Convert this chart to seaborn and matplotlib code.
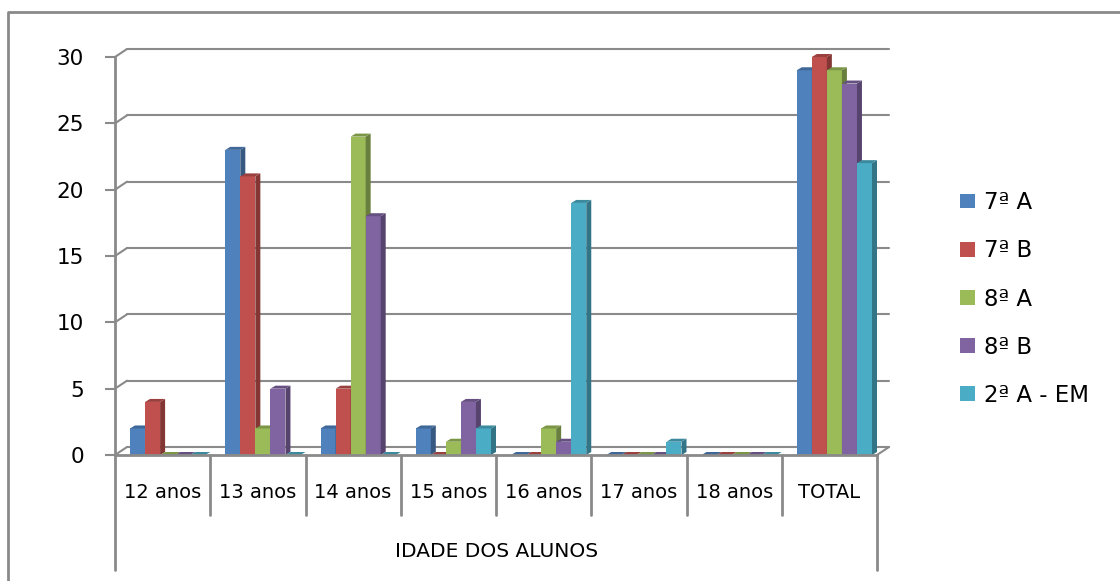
import numpy as np
import pandas as pd
import matplotlib
matplotlib.use("Agg")
import matplotlib.pyplot as plt
import matplotlib.transforms as mtrans
import matplotlib.colors as mcolors
from matplotlib.patches import Polygon, Patch
from matplotlib.lines import Line2D
import seaborn as sns

# Number of students per age group and class
idades = ["12 anos", "13 anos", "14 anos", "15 anos", "16 anos", "17 anos", "18 anos", "TOTAL"]
turmas = ["7ª A", "7ª B", "8ª A", "8ª B", "2ª A - EM"]
t7a = [2, 23, 2, 2, 0, 0, 0, 29]
t7b = [4, 21, 5, 0, 0, 0, 0, 30]
t8a = [0, 2, 24, 1, 2, 0, 0, 29]
t8b = [0, 5, 18, 4, 1, 0, 0, 28]
t2em = [0, 0, 0, 2, 19, 1, 0, 22]
cores = ["#4F81BD", "#C0504D", "#9BBB59", "#8064A2", "#4BACC6"]
yticks = [0, 5, 10, 15, 20, 25, 30]

df = pd.DataFrame({
    "idade": idades * len(turmas),
    "turma": np.repeat(turmas, len(idades)),
    "alunos": t7a + t7b + t8a + t8b + t2em,
})

sns.set_theme(style="white")
plt.rcParams["font.family"] = ["DejaVu Sans"]
plt.rcParams["text.color"] = "black"
plt.rcParams["xtick.color"] = "black"
plt.rcParams["ytick.color"] = "black"

W, H = 1120, 581
GREY = "#8a8a8a"
fig = plt.figure(figsize=(W / 100, H / 100), dpi=100, facecolor="white")
ax_left, ax_right, ax_top, ax_bot = 115, 877, 57, 455
ax = fig.add_axes([ax_left / W, (H - ax_bot) / H,
                   (ax_right - ax_left) / W, (ax_bot - ax_top) / H])

sns.barplot(data=df, x="idade", y="alunos", hue="turma", order=idades,
            hue_order=turmas, palette=cores, width=0.79, gap=0,
            saturation=1, errorbar=None, legend=False, ax=ax, zorder=3)

ax.set_xlim(-0.5, len(idades) - 0.5)
ax.set_ylim(0, 30)
ax.set_yticks(yticks)
ax.set_xlabel("")
ax.set_ylabel("")
for s in ax.spines.values():
    s.set_visible(False)
ax.set_facecolor("white")

ax.tick_params(axis="y", left=True, length=7.5, width=1.5, color=GREY,
               pad=15, labelsize=15.5, labelcolor="black", direction="out")
ax.tick_params(axis="x", bottom=False, length=0, pad=20, labelsize=14,
               labelcolor="black")

ident = mtrans.IdentityTransform()
px = lambda dx, dy: mtrans.ScaledTranslation(dx / 100, dy / 100, fig.dpi_scale_trans)

# back wall gridlines, offset in depth, with the small connecting diagonals
DX, DY = 12, 8
blend = mtrans.blended_transform_factory(ax.transAxes, ax.transData)
for y in yticks:
    ax.plot([0, 1], [y, y], transform=blend + px(DX, DY), color=GREY,
            lw=1.5, clip_on=False, zorder=1)
    x0, y0 = ax.transData.transform((-0.5, y))
    ax.add_artist(Line2D([x0, x0 + DX], [y0, y0 + DY], transform=ident,
                         color=GREY, lw=1.5, zorder=1, clip_on=False))
xr, yr = ax.transData.transform((len(idades) - 0.5, 0))
ax.add_artist(Line2D([xr, xr + DX], [yr, yr + DY], transform=ident,
                     color=GREY, lw=1.5, zorder=1, clip_on=False))

# extruded columns: shift a little into depth, add side and top faces
SHIFT = 5
BD, BE = 5, 3
n_cat = len(idades)
for h, cont in enumerate(ax.containers):
    base = mcolors.to_rgb(cores[h])
    side = tuple(c * 0.68 for c in base)
    top = tuple(c * 0.8 for c in base)
    for j, p in enumerate(cont.patches):
        z = 3 + 0.01 * (j * len(turmas) + h)
        p.set_transform(ax.transData + px(SHIFT, 0))
        p.set_zorder(z)
        p.set_edgecolor("none")
        x0, hgt, w = p.get_x(), p.get_height(), p.get_width()
        X0, Y0 = ax.transData.transform((x0, 0))
        X1, Y1 = ax.transData.transform((x0 + w, hgt))
        X0 += SHIFT
        X1 += SHIFT
        ax.add_artist(Polygon([(X1, Y0), (X1, Y1), (X1 + BD, Y1 + BE), (X1 + BD, Y0 + BE)],
                              closed=True, transform=ident, facecolor=side,
                              edgecolor="none", zorder=z + 0.001, clip_on=False))
        ax.add_artist(Polygon([(X0, Y1), (X1, Y1), (X1 + BD, Y1 + BE), (X0 + BD, Y1 + BE)],
                              closed=True, transform=ident, facecolor=top,
                              edgecolor="none", zorder=z + 0.002, clip_on=False))

# front axis lines and category separators
low_div = -(515 - ax_bot) / (ax_bot - ax_top)
low_ax = -(570 - ax_bot) / (ax_bot - ax_top)
tA = ax.transAxes
ax.plot([0, 0], [1, low_ax], transform=tA, color=GREY, lw=2, clip_on=False, zorder=5)
ax.plot([1, 1], [0, low_ax], transform=tA, color=GREY, lw=2, clip_on=False, zorder=5)
ax.plot([0, 1], [0, 0], transform=tA, color=GREY, lw=2, clip_on=False, zorder=5)
for k in range(1, n_cat):
    xf = k / n_cat
    ax.plot([xf, xf], [0, low_div], transform=tA, color=GREY, lw=2,
            clip_on=False, zorder=5)

fig.text(497 / W, 1 - 557 / H, "IDADE DOS ALUNOS", ha="center", va="baseline",
         fontsize=14.5, color="black")

# chart border (left and top edges)
fig.add_artist(Line2D([8, 8, W], [0, H - 12, H - 12], transform=ident,
                      color=GREY, lw=2))

handles = [Patch(facecolor=c, edgecolor="none") for c in cores]
fig.legend(handles, turmas, loc="center left", bbox_to_anchor=(960 / W, 1 - 299 / H),
           frameon=False, fontsize=16.5, handlelength=0.66, handleheight=0.61,
           handletextpad=0.4, labelspacing=1.1, borderpad=0, borderaxespad=0,
           labelcolor="black")

fig.savefig("out.png", dpi=100, facecolor="white")
